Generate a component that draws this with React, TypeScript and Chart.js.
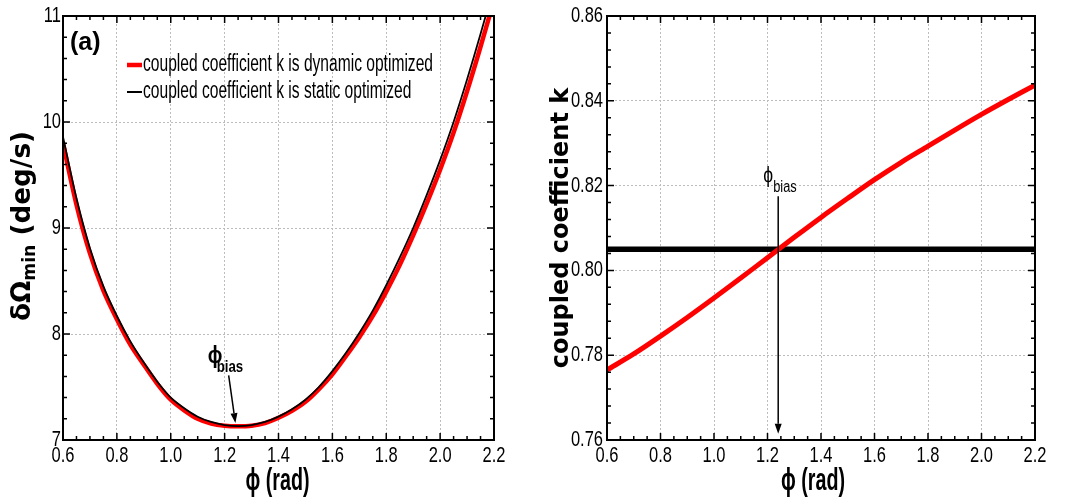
import React, { useEffect, useRef } from 'react';
import { Chart, registerables } from 'chart.js';

Chart.register(...registerables);

// ---------- data ----------
const phiA = [0.6, 0.65, 0.7, 0.75, 0.8, 0.85, 0.9, 0.95, 1.0, 1.05, 1.1, 1.15, 1.2, 1.25, 1.3, 1.35, 1.4, 1.45, 1.5, 1.55, 1.6, 1.65, 1.7, 1.75, 1.8, 1.85, 1.9, 1.95, 2.0, 2.05, 2.1, 2.15, 2.2];
const dynamicA = [9.8, 9.22, 8.76, 8.41, 8.14, 7.9, 7.71, 7.53, 7.38, 7.28, 7.2, 7.155, 7.135, 7.13, 7.135, 7.16, 7.21, 7.275, 7.36, 7.48, 7.62, 7.79, 7.97, 8.17, 8.4, 8.65, 8.93, 9.23, 9.55, 9.9, 10.29, 10.71, 11.15];
const staticA = [9.86, 9.28, 8.81, 8.45, 8.17, 7.93, 7.73, 7.55, 7.4, 7.3, 7.22, 7.17, 7.14, 7.13, 7.14, 7.17, 7.22, 7.29, 7.38, 7.5, 7.65, 7.82, 8.01, 8.22, 8.46, 8.72, 9.0, 9.31, 9.64, 10.0, 10.4, 10.83, 11.28];

const phiB = [0.6, 0.7, 0.8, 0.9, 1.0, 1.1, 1.2, 1.3, 1.4, 1.5, 1.6, 1.7, 1.8, 1.9, 2.0, 2.1, 2.2];
const dynamicB = [0.7765, 0.7803, 0.7845, 0.7889, 0.7935, 0.7982, 0.803, 0.8078, 0.8125, 0.817, 0.8214, 0.8255, 0.8293, 0.8331, 0.8368, 0.8403, 0.8437];
const phiStaticB = [0.6, 2.2];
const staticB = [0.805, 0.805];

const xTicks = [0.6, 0.8, 1.0, 1.2, 1.4, 1.6, 1.8, 2.0, 2.2];
const yTicksA = [7, 8, 9, 10, 11];
const yTicksB = [0.76, 0.78, 0.8, 0.82, 0.84, 0.86];

const legendLabels = ['coupled coefficient k is dynamic optimized', 'coupled coefficient k is static optimized'];
const xTitle = 'ϕ (rad)';
const yTitleB = 'coupled coefficient k';
const phiBias = 1.24;

// ---------- styling ----------
const SANS = "'Liberation Sans',Arial,'DejaVu Sans',sans-serif";
const WIDE = "'DejaVu Sans','Liberation Sans',sans-serif";
const RED = '#ff0000';
const NARROW_SX = 0.75;

function drawText(ctx: any, text: string, x: number, y: number, font: string, sx: number, align: string = 'left') {
  ctx.save();
  ctx.font = font;
  ctx.textAlign = 'left';
  ctx.textBaseline = 'middle';
  ctx.fillStyle = '#000';
  const w = ctx.measureText(text).width * sx;
  let x0 = x;
  if (align === 'center') x0 = x - w / 2;
  else if (align === 'right') x0 = x - w;
  ctx.translate(x0, y);
  ctx.scale(sx, 1);
  ctx.fillText(text, 0, 0);
  ctx.restore();
}

function fitScale(ctx: any, text: string, font: string, target: number) {
  ctx.save();
  ctx.font = font;
  const w = ctx.measureText(text).width;
  ctx.restore();
  return target / w;
}

function drawFrameAndTicks(chart: any, xMinor: number, yMinor: number, xEvery: number, yEvery: number) {
  const { ctx, chartArea: a, scales } = chart;
  const x = scales.x, y = scales.y;
  ctx.save();
  ctx.strokeStyle = '#000';
  ctx.lineWidth = 1.5;
  ctx.beginPath();
  const nx = Math.round((x.max - x.min) / xMinor);
  for (let i = 0; i <= nx; i++) {
    const px = x.getPixelForValue(x.min + i * xMinor);
    const len = i % xEvery === 0 ? 7 : 4;
    ctx.moveTo(px, a.bottom); ctx.lineTo(px, a.bottom - len);
    ctx.moveTo(px, a.top); ctx.lineTo(px, a.top + len);
  }
  const ny = Math.round((y.max - y.min) / yMinor);
  for (let i = 0; i <= ny; i++) {
    const py = y.getPixelForValue(y.min + i * yMinor);
    const len = i % yEvery === 0 ? 7 : 4;
    ctx.moveTo(a.left, py); ctx.lineTo(a.left + len, py);
    ctx.moveTo(a.right, py); ctx.lineTo(a.right - len, py);
  }
  ctx.stroke();
  ctx.lineWidth = 2;
  ctx.strokeRect(a.left, a.top, a.right - a.left, a.bottom - a.top);
  ctx.restore();
}

function drawTickLabels(chart: any, yDigits: number, yGap: number, titleDx: number) {
  const { ctx, chartArea: a, scales } = chart;
  const x = scales.x, y = scales.y;
  const f = `22px ${SANS}`;
  x.ticks.forEach((t: any) => {
    drawText(ctx, Number(t.value).toFixed(1), x.getPixelForValue(t.value), a.bottom + 16, f, NARROW_SX, 'center');
  });
  y.ticks.forEach((t: any) => {
    drawText(ctx, Number(t.value).toFixed(yDigits), a.left - yGap, y.getPixelForValue(t.value), f, NARROW_SX, 'right');
  });
  const tf = `bold 31px ${SANS}`;
  drawText(ctx, xTitle, (a.left + a.right) / 2 + titleDx, a.bottom + 41, tf, fitScale(ctx, xTitle, tf, 64), 'center');
}

function arrow(ctx: any, x1: number, y1: number, x2: number, y2: number) {
  ctx.save();
  ctx.strokeStyle = '#000';
  ctx.fillStyle = '#000';
  ctx.lineWidth = 1.5;
  const ang = Math.atan2(y2 - y1, x2 - x1);
  const hl = 10, hw = 3.5;
  const bx = x2 - hl * Math.cos(ang), by = y2 - hl * Math.sin(ang);
  ctx.beginPath();
  ctx.moveTo(x1, y1); ctx.lineTo(bx, by);
  ctx.stroke();
  ctx.beginPath();
  ctx.moveTo(x2, y2);
  ctx.lineTo(bx + hw * Math.sin(ang), by - hw * Math.cos(ang));
  ctx.lineTo(bx - hw * Math.sin(ang), by + hw * Math.cos(ang));
  ctx.closePath();
  ctx.fill();
  ctx.restore();
}

function drawLegend(ctx: any, x0: number, ys: number[], width0: number, lineWidths: number[], colors: string[]) {
  const font = `23px ${SANS}`;
  const sx = fitScale(ctx, legendLabels[0], font, width0);
  for (let i = 0; i < 2; i++) {
    ctx.save();
    ctx.strokeStyle = colors[i];
    ctx.lineWidth = lineWidths[i];
    ctx.beginPath();
    ctx.moveTo(x0, ys[i]); ctx.lineTo(x0 + 15, ys[i]);
    ctx.stroke();
    ctx.restore();
    drawText(ctx, legendLabels[i], x0 + 16, ys[i], font, sx);
  }
}

function baseScales(yWidth: number, yTicks: number[], yMin: number, yMax: number, yTitle: any) {
  return {
    x: {
      type: 'linear',
      min: 0.6,
      max: 2.2,
      afterBuildTicks: (s: any) => { s.ticks = xTicks.map((v) => ({ value: v })); },
      afterFit: (s: any) => { s.height = 64; },
      ticks: { display: false },
      grid: { color: '#bdbdbd', lineWidth: 1, drawTicks: false },
      border: { display: false, dash: [2, 2] },
      title: { display: false },
    },
    y: {
      type: 'linear',
      min: yMin,
      max: yMax,
      afterBuildTicks: (s: any) => { s.ticks = yTicks.map((v) => ({ value: v })); },
      afterFit: (s: any) => { s.width = yWidth; },
      ticks: { display: false },
      grid: { color: '#bdbdbd', lineWidth: 1, drawTicks: false },
      border: { display: false, dash: [2, 2] },
      title: yTitle,
    },
  };
}

export default function App() {
  const refA = useRef<HTMLCanvasElement>(null);
  const refB = useRef<HTMLCanvasElement>(null);

  useEffect(() => {
    const decorA = {
      id: 'decorA',
      afterDraw(chart: any) {
        const { ctx, scales } = chart;
        const x = scales.x, y = scales.y;
        const sx = x.getPixelForValue(1.215), sy = y.getPixelForValue(7.61);
        const tx = x.getPixelForValue(phiBias), ty = y.getPixelForValue(7.16);
        arrow(ctx, sx, sy, tx, ty);
        drawText(ctx, 'ϕ', sx - 21, sy - 19, `bold 23px ${SANS}`, 0.85);
        drawText(ctx, 'bias', sx - 12, sy - 8, `bold 17px ${SANS}`, 0.78);
        drawFrameAndTicks(chart, 0.05, 0.2, 4, 5);
        drawTickLabels(chart, 0, 2, -1);
        drawText(ctx, '(a)', 70, 43, `bold 25px ${SANS}`, 1);
        drawLegend(ctx, 127, [65, 92], 290, [4.5, 2], [RED, '#000']);
        // y title with subscript
        ctx.save();
        ctx.translate(23, 226);
        ctx.rotate(-Math.PI / 2);
        ctx.fillStyle = '#000';
        ctx.textBaseline = 'middle';
        ctx.textAlign = 'left';
        const pieces = [
          { t: 'δΩ', f: `bold 26px ${WIDE}`, dy: 0 },
          { t: 'min', f: `bold 17px ${WIDE}`, dy: 8 },
          { t: ' (deg/s)', f: `bold 26px ${WIDE}`, dy: 0 },
        ];
        let total = 0;
        const ws = pieces.map((p) => { ctx.font = p.f; const w = ctx.measureText(p.t).width; total += w; return w; });
        const s = 190 / total;
        ctx.scale(s, 1);
        let cx = -total / 2;
        pieces.forEach((p, i) => { ctx.font = p.f; ctx.fillText(p.t, cx, p.dy); cx += ws[i]; });
        ctx.restore();
      },
    };

    const decorB = {
      id: 'decorB',
      afterDraw(chart: any) {
        const { ctx, scales } = chart;
        const x = scales.x, y = scales.y;
        const lx = x.getPixelForValue(phiBias);
        const top = y.getPixelForValue(0.8175), bot = y.getPixelForValue(0.7615);
        arrow(ctx, lx, top, lx, bot);
        drawText(ctx, 'ϕ', lx - 15, top - 20, `22px ${SANS}`, 0.8);
        drawText(ctx, 'bias', lx - 5, top - 9, `16px ${SANS}`, 0.8);
        drawFrameAndTicks(chart, 0.05, 0.004, 4, 5);
        drawTickLabels(chart, 2, 4, -8);
        drawText(ctx, '(b)', 612, 43, `bold 25px ${SANS}`, 1);
        drawLegend(ctx, 643, [78, 104], 287, [5, 5], [RED, '#000']);
      },
    };

    const chartA = new Chart(refA.current as any, {
      type: 'line',
      data: {
        datasets: [
          { label: legendLabels[0], data: phiA.map((v, i) => ({ x: v, y: dynamicA[i] })), borderColor: RED, borderWidth: 4.5, pointRadius: 0, tension: 0.3, order: 1 },
          { label: legendLabels[1], data: phiA.map((v, i) => ({ x: v, y: staticA[i] })), borderColor: '#000', borderWidth: 1.8, pointRadius: 0, tension: 0.3, order: 0 },
        ],
      } as any,
      options: {
        animation: false,
        responsive: false,
        layout: { padding: { top: 16, right: 46, left: 0, bottom: 0 } },
        plugins: { legend: { display: false }, tooltip: { enabled: false } },
        scales: baseScales(63, yTicksA, 7, 11, { display: false }) as any,
      },
      plugins: [decorA],
    });

    const chartB = new Chart(refB.current as any, {
      type: 'line',
      data: {
        datasets: [
          { label: legendLabels[0], data: phiB.map((v, i) => ({ x: v, y: dynamicB[i] })), borderColor: RED, borderWidth: 5, pointRadius: 0, tension: 0.3, order: 0 },
          { label: legendLabels[1], data: phiStaticB.map((v, i) => ({ x: v, y: staticB[i] })), borderColor: '#000', borderWidth: 5.5, pointRadius: 0, order: 1 },
        ],
      } as any,
      options: {
        animation: false,
        responsive: false,
        layout: { padding: { top: 16, right: 50, left: 0, bottom: 0 } },
        plugins: { legend: { display: false }, tooltip: { enabled: false } },
        scales: baseScales(67, yTicksB, 0.76, 0.86, {
          display: true,
          text: yTitleB,
          font: { family: WIDE, size: 24, weight: 'bold' },
          color: '#000',
          padding: { top: 7, bottom: 0 },
        }) as any,
      },
      plugins: [decorB],
    });

    return () => {
      chartA.destroy();
      chartB.destroy();
    };
  }, []);

  return (
    <div style={{ position: 'absolute', left: 0, top: 0, width: 1085, height: 504, background: '#fff', overflow: 'hidden' }}>
      <canvas ref={refA} width={540} height={504} style={{ position: 'absolute', left: 0, top: 0, width: 540, height: 504 }} />
      <canvas ref={refB} width={545} height={504} style={{ position: 'absolute', left: 540, top: 0, width: 545, height: 504 }} />
    </div>
  );
}
